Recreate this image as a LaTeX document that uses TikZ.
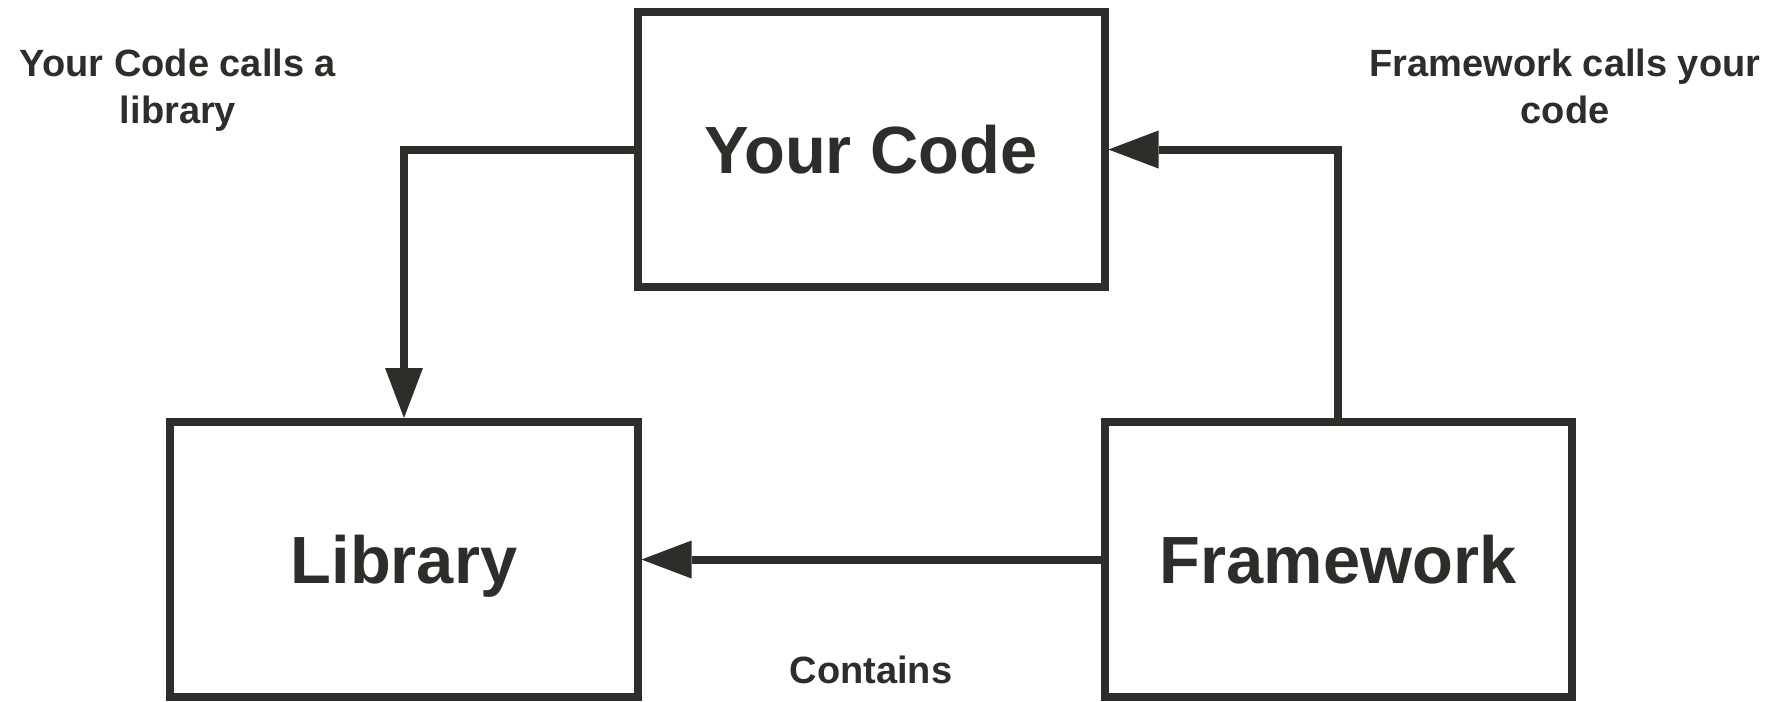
\documentclass[tikz,border=0pt]{standalone}
\usepackage{fontspec}
\setmainfont{Liberation Sans}
\usepackage{tikz}
\usetikzlibrary{matrix,arrows.meta}
\definecolor{ink}{RGB}{45,45,42}

\begin{document}
\begin{tikzpicture}[x=0.25pt,y=-0.25pt,
  box/.style={draw=ink, line width=2pt, minimum width=116.75pt, minimum height=68.75pt,
    inner sep=0pt, text height=11.96pt, text depth=0pt, text=ink,
    font=\fontsize{16.7}{20}\selectfont\bfseries},
  note/.style={inner sep=0pt, align=center, text=ink, font=\fontsize{9.5}{11.75}\selectfont\bfseries},
  arr/.style={draw=ink, line width=2pt, -{Triangle[length=12.5pt,width=9.5pt,line width=0pt]}}]
  \useasboundingbox (0,0) rectangle (1786,701);
  \matrix (m) [matrix of nodes, nodes={box}, row sep=31.75pt, column sep=-2pt] at (871,354.5)
  {
           & Your Code &           \\
   Library &           & Framework \\
  };
  \node[note, anchor=north] (libnote) at (178,48.5) {Your Code calls a\\library};
  \node[note, anchor=north] (codenote) at (1565,48.5) {Framework calls your\\code};
  \path
  (m-1-2.west) edge[arr, to path={-| (\tikztotarget)}] (m-2-1.north)
  (m-2-3.north) edge[arr, to path={|- (\tikztotarget)}] (m-1-2.east)
  (m-2-3.west) edge[arr] node[note, below=23pt] {Contains} (m-2-1.east)
  ;
\end{tikzpicture}
\end{document}
